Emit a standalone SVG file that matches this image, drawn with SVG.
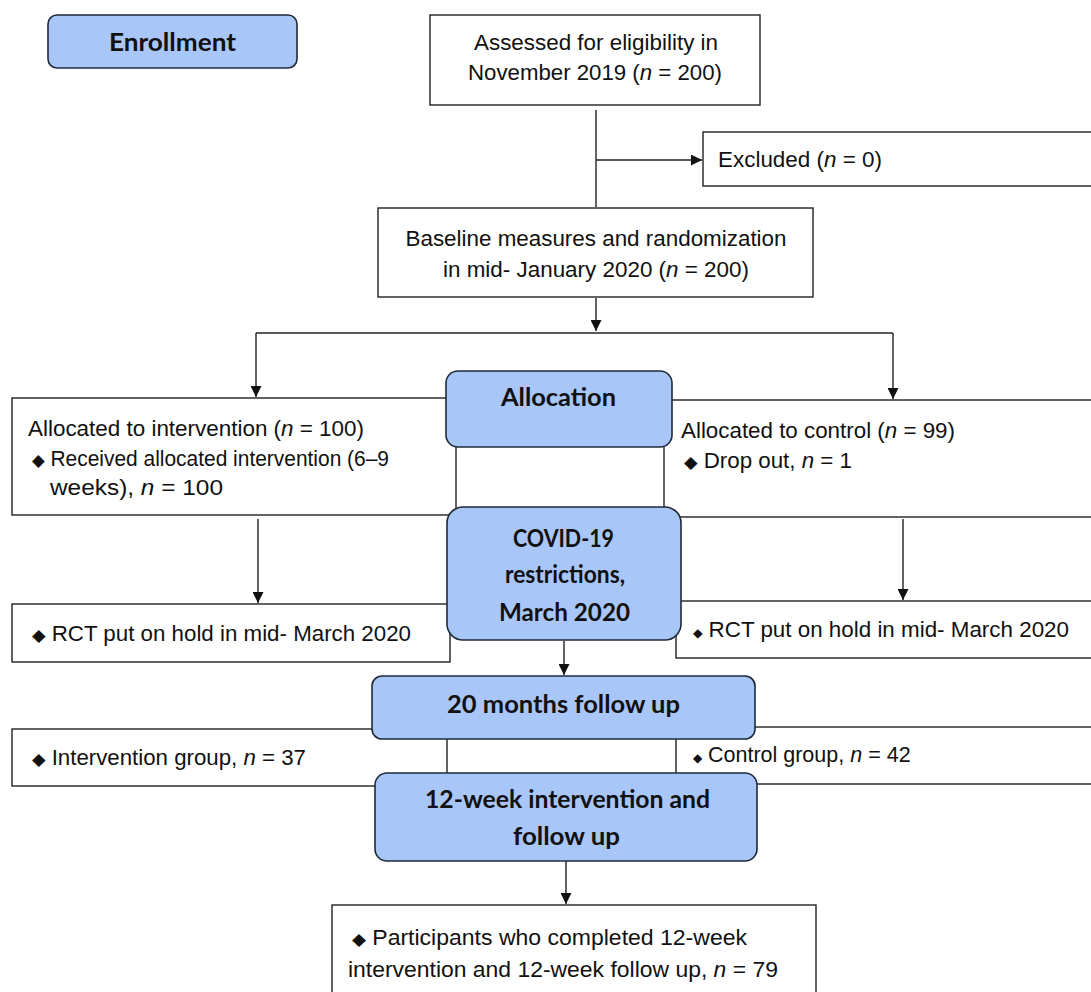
<svg xmlns="http://www.w3.org/2000/svg" width="1091" height="992" viewBox="0 0 1091 992">
<style>
.box{fill:#fff;stroke:#222;stroke-width:1.4}
.blue{fill:#a8c6f8;stroke:#1e2a3a;stroke-width:1.6}
.t{font-family:"Liberation Sans",Arial,sans-serif;font-size:21.5px;fill:#111}
.b{font-family:Lato,"Open Sans",sans-serif;font-weight:bold;font-size:25px;fill:#111;text-anchor:middle}
.c{fill:none;stroke:#222;stroke-width:1.4}
.i{font-style:italic}
.d{font-size:17px}
.ds{font-size:12px}
</style>
<defs>
<marker id="ah" viewBox="0 0 10 10" refX="10" refY="5" markerWidth="11" markerHeight="11" markerUnits="userSpaceOnUse" orient="auto">
<path d="M0,0 L10,5 L0,10 Z" fill="#111"/>
</marker>
</defs>
<g id="connectors">
<path class="c" d="M596,110 V207"/>
<path class="c" d="M596,160 H702" marker-end="url(#ah)"/>
<path class="c" d="M596,298 V331" marker-end="url(#ah)"/>
<path class="c" d="M256,333 H893"/>
<path class="c" d="M256,333 V397" marker-end="url(#ah)"/>
<path class="c" d="M893,333 V399" marker-end="url(#ah)"/>
<path class="c" d="M258,519 V603" marker-end="url(#ah)"/>
<path class="c" d="M903,519 V600" marker-end="url(#ah)"/>
<path class="c" d="M564,641 V675" marker-end="url(#ah)"/>
<path class="c" d="M566,861 V904" marker-end="url(#ah)"/>
</g>
<g id="assessed">
<rect class="box" x="430" y="15" width="330" height="90"/>
<text class="t" x="596" y="50" text-anchor="middle" textLength="244" lengthAdjust="spacingAndGlyphs">Assessed for eligibility in</text>
<text class="t" x="595" y="80" text-anchor="middle" textLength="254" lengthAdjust="spacingAndGlyphs">November 2019 (<tspan class="i">n</tspan> = 200)</text>
</g>
<g id="excluded">
<rect class="box" x="703" y="132" width="400" height="54"/>
<text class="t" x="718" y="167" textLength="164" lengthAdjust="spacingAndGlyphs">Excluded (<tspan class="i">n</tspan> = 0)</text>
</g>
<g id="baseline">
<rect class="box" x="378" y="208" width="435" height="89"/>
<text class="t" x="596" y="246" text-anchor="middle" textLength="381" lengthAdjust="spacingAndGlyphs">Baseline measures and randomization</text>
<text class="t" x="596" y="277" text-anchor="middle" textLength="306" lengthAdjust="spacingAndGlyphs">in mid- January 2020 (<tspan class="i">n</tspan> = 200)</text>
</g>
<g id="alloc-intervention">
<rect class="box" x="12" y="398" width="444" height="117"/>
<text class="t" x="28" y="436" textLength="336" lengthAdjust="spacingAndGlyphs">Allocated to intervention (<tspan class="i">n</tspan> = 100)</text>
<text class="t" x="32" y="466" textLength="357" lengthAdjust="spacingAndGlyphs"><tspan class="d">◆</tspan> Received allocated intervention (6–9</text>
<text class="t" x="50" y="495" textLength="173" lengthAdjust="spacingAndGlyphs">weeks), <tspan class="i">n</tspan> = 100</text>
</g>
<g id="alloc-control">
<rect class="box" x="664" y="400" width="440" height="117"/>
<text class="t" x="681" y="438" textLength="274" lengthAdjust="spacingAndGlyphs">Allocated to control (<tspan class="i">n</tspan> = 99)</text>
<text class="t" x="684" y="468" textLength="168" lengthAdjust="spacingAndGlyphs"><tspan class="d">◆</tspan> Drop out, <tspan class="i">n</tspan> = 1</text>
</g>
<g id="rct-left">
<rect class="box" x="12" y="604" width="438" height="58"/>
<text class="t" x="32" y="641" textLength="379" lengthAdjust="spacingAndGlyphs"><tspan class="d">◆</tspan> RCT put on hold in mid- March 2020</text>
</g>
<g id="rct-right">
<rect class="box" x="676" y="601" width="428" height="57"/>
<text class="t" x="693" y="637" textLength="376" lengthAdjust="spacingAndGlyphs"><tspan class="ds">◆</tspan> RCT put on hold in mid- March 2020</text>
</g>
<g id="group-intervention">
<rect class="box" x="12" y="729" width="435" height="57"/>
<text class="t" x="32" y="765" textLength="274" lengthAdjust="spacingAndGlyphs"><tspan class="d">◆</tspan> Intervention group, <tspan class="i">n</tspan> = 37</text>
</g>
<g id="group-control">
<rect class="box" x="676" y="727" width="428" height="57"/>
<text class="t" x="693" y="762" font-size="20"><tspan class="ds">◆</tspan> Control group, <tspan class="i">n</tspan> = 42</text>
</g>
<g id="completed">
<rect class="box" x="332" y="905" width="484" height="100"/>
<text class="t" x="352" y="945" textLength="395" lengthAdjust="spacingAndGlyphs"><tspan class="d">◆</tspan> Participants who completed 12-week</text>
<text class="t" x="348" y="977" textLength="430" lengthAdjust="spacingAndGlyphs">intervention and 12-week follow up, <tspan class="i">n</tspan> = 79</text>
</g>
<g id="enrollment">
<rect class="blue" x="48" y="15" width="249" height="53" rx="9"/>
<text class="b" x="172.5" y="51" textLength="127" lengthAdjust="spacingAndGlyphs">Enrollment</text>
</g>
<g id="allocation">
<rect class="blue" x="446" y="371" width="226" height="76" rx="12"/>
<text class="b" x="558.5" y="406" textLength="115" lengthAdjust="spacingAndGlyphs">Allocation</text>
</g>
<g id="covid">
<rect class="blue" x="447" y="507" width="234" height="133" rx="16"/>
<text class="b" x="563.5" y="547" textLength="101" lengthAdjust="spacingAndGlyphs">COVID-19</text>
<text class="b" x="565" y="583" textLength="120" lengthAdjust="spacingAndGlyphs">restrictions,</text>
<text class="b" x="564.5" y="621" textLength="131" lengthAdjust="spacingAndGlyphs">March 2020</text>
</g>
<g id="followup20">
<rect class="blue" x="372" y="676" width="383" height="63" rx="10"/>
<text class="b" x="563.5" y="713" textLength="233" lengthAdjust="spacingAndGlyphs">20 months follow up</text>
</g>
<g id="week12">
<rect class="blue" x="375" y="773" width="382" height="88" rx="12"/>
<text class="b" x="567.5" y="808" textLength="285" lengthAdjust="spacingAndGlyphs">12-week intervention and</text>
<text class="b" x="566.5" y="845" textLength="107" lengthAdjust="spacingAndGlyphs">follow up</text>
</g>
</svg>
